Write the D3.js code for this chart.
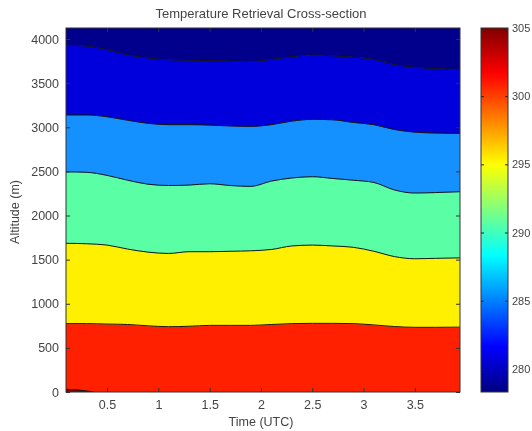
<!DOCTYPE html>
<html><head><meta charset="utf-8">
<script src="https://cdn.jsdelivr.net/npm/d3@7"></script>
<style>
html,body{margin:0;padding:0;background:#fff;}
svg{display:block;filter:blur(0.35px);}
text{font-family:"Liberation Sans",Arial,sans-serif;fill:#3a3a3a;}
</style></head>
<body>
<svg id="chart" width="532" height="431"></svg>
<script>
// ---- data ----
const times = [0.1,0.3,0.5,0.7,0.9,1.1,1.3,1.5,1.7,1.9,2.1,2.3,2.5,2.7,2.9,3.1,3.3,3.5,3.7,3.94];
// contour boundary altitudes (m)
const level300 = [775,775,770,765,750,740,745,755,755,755,765,775,778,778,775,760,742,733,733,735];
const level295 = [1685,1680,1665,1620,1585,1570,1590,1590,1595,1600,1615,1655,1665,1655,1640,1595,1535,1510,1515,1520];
const level290 = [2495,2490,2455,2400,2355,2340,2345,2360,2340,2330,2390,2425,2440,2420,2400,2375,2290,2255,2260,2270];
const level285 = [3140,3140,3120,3080,3045,3030,3030,3025,3015,3010,3030,3070,3090,3085,3055,3030,2975,2945,2935,2930];
const level280 = [3930,3920,3880,3820,3785,3765,3760,3755,3752,3745,3770,3800,3820,3810,3795,3770,3710,3680,3665,3657];
const hotTimes = [0.1,0.2,0.3,0.37];
const level305 = [30,25,12,0];
const bandColors = ["#ff2000","#fff000","#5affa5","#1490ff","#0000dc","#00008c"];
const hotColor = "#800000";
const xTicks = [0.5,1,1.5,2,2.5,3,3.5];
const yTicks = [0,500,1000,1500,2000,2500,3000,3500,4000];
const cTicks = [280,285,290,295,300,305];
const xDomain = [0.1,3.94];
const yDomain = [0,4125];
const cDomain = [278.3,305];
const titleText = "Temperature Retrieval Cross-section";
const xLabel = "Time (UTC)";
const yLabel = "Altitude (m)";

// ---- layout ----
const svg = d3.select("#chart");
const L=66,R=460,T=28,B=392;
const x = d3.scaleLinear().domain(xDomain).range([L,R]);
const y = d3.scaleLinear().domain(yDomain).range([B,T]);

svg.append("rect").attr("width",532).attr("height",431).attr("fill","#fff");

const clip = svg.append("clipPath").attr("id","plotclip");
clip.append("rect").attr("x",L).attr("y",T).attr("width",R-L).attr("height",B-T);
const g = svg.append("g").attr("clip-path","url(#plotclip)");

const bounds = [times.map(()=>yDomain[0]), level300, level295, level290, level285, level280, times.map(()=>yDomain[1])];
const curve = d3.curveMonotoneX;
for(let i=0;i<6;i++){
  const lo=bounds[i], hi=bounds[i+1];
  const area = d3.area().curve(curve)
    .x((d,j)=>x(times[j])).y0((d,j)=>y(lo[j])).y1((d,j)=>y(hi[j]));
  g.append("path").attr("d",area(times)).attr("fill",bandColors[i]).attr("stroke",bandColors[i]).attr("stroke-width",0.5);
}
// hot patch
const hotArea = d3.area().curve(curve).x((d,j)=>x(hotTimes[j])).y0(y(0)).y1((d,j)=>y(level305[j]));
g.append("path").attr("d",hotArea(hotTimes)).attr("fill",hotColor);
g.append("path").attr("d",d3.line().curve(curve).x((d,j)=>x(hotTimes[j])).y((d,j)=>y(level305[j]))(hotTimes))
  .attr("fill","none").attr("stroke","#111").attr("stroke-width",1);
// contour lines
[level300,level295,level290,level285,level280].forEach(arr=>{
  const line = d3.line().curve(curve).x((d,j)=>x(times[j])).y((d,j)=>y(arr[j]));
  g.append("path").attr("d",line(times)).attr("fill","none").attr("stroke","#151515").attr("stroke-width",1);
});

// axes
const tickLen = 4;
const axL = svg.append("g").attr("transform",`translate(${L},0)`).call(d3.axisLeft(y).tickValues(yTicks).tickSize(-tickLen).tickPadding(7).tickFormat(d3.format("d")));
const axR = svg.append("g").attr("transform",`translate(${R},0)`).call(d3.axisRight(y).tickValues(yTicks).tickSize(-tickLen).tickFormat(""));
const axB = svg.append("g").attr("transform",`translate(0,${B})`).call(d3.axisBottom(x).tickValues(xTicks).tickSize(-tickLen).tickPadding(8).tickFormat(d3.format("")));
const axT = svg.append("g").attr("transform",`translate(0,${T})`).call(d3.axisTop(x).tickValues(xTicks).tickSize(-tickLen).tickFormat(""));
[axL,axR,axB,axT].forEach(a=>{
  a.select(".domain").remove();
  a.selectAll(".tick line").attr("stroke","#333");
  a.selectAll("text").attr("font-size",12.5).style("fill","#444");
});
svg.append("rect").attr("x",L).attr("y",T).attr("width",R-L).attr("height",B-T)
  .attr("fill","none").attr("stroke","#333").attr("stroke-width",1);

// title and labels
svg.append("text").attr("x",261).attr("y",18).attr("text-anchor","middle").attr("font-size",13).style("fill","#444").text(titleText);
svg.append("text").attr("x",261).attr("y",426).attr("text-anchor","middle").attr("font-size",12.5).style("fill","#444").text(xLabel);
svg.append("text").attr("transform","translate(19,212) rotate(-90)").attr("text-anchor","middle").attr("font-size",12.5).style("fill","#444").text(yLabel);

// colorbar
const CL=481,CR=508;
const cy = d3.scaleLinear().domain(cDomain).range([B,T]);
const jetStops = [[0,"#000080"],[0.125,"#0000ff"],[0.375,"#00ffff"],[0.625,"#ffff00"],[0.875,"#ff0000"],[1,"#800000"]];
const defs = svg.append("defs");
const grad = defs.append("linearGradient").attr("id","jet").attr("x1",0).attr("y1",1).attr("x2",0).attr("y2",0);
jetStops.forEach(s=>grad.append("stop").attr("offset",s[0]).attr("stop-color",s[1]));
svg.append("rect").attr("x",CL).attr("y",T).attr("width",CR-CL).attr("height",B-T).attr("fill","url(#jet)");
const caxR = svg.append("g").attr("transform",`translate(${CR},0)`).call(d3.axisRight(cy).tickValues(cTicks).tickSize(-3).tickPadding(4).tickFormat(d3.format("d")));
const caxL = svg.append("g").attr("transform",`translate(${CL},0)`).call(d3.axisLeft(cy).tickValues(cTicks).tickSize(-3).tickFormat(""));
[caxR,caxL].forEach(a=>{
  a.select(".domain").remove();
  a.selectAll(".tick line").attr("stroke","#222");
  a.selectAll("text").attr("font-size",11).style("fill","#444");
});
svg.append("rect").attr("x",CL).attr("y",T).attr("width",CR-CL).attr("height",B-T)
  .attr("fill","none").attr("stroke","#333").attr("stroke-width",1);
</script>
</body></html>
